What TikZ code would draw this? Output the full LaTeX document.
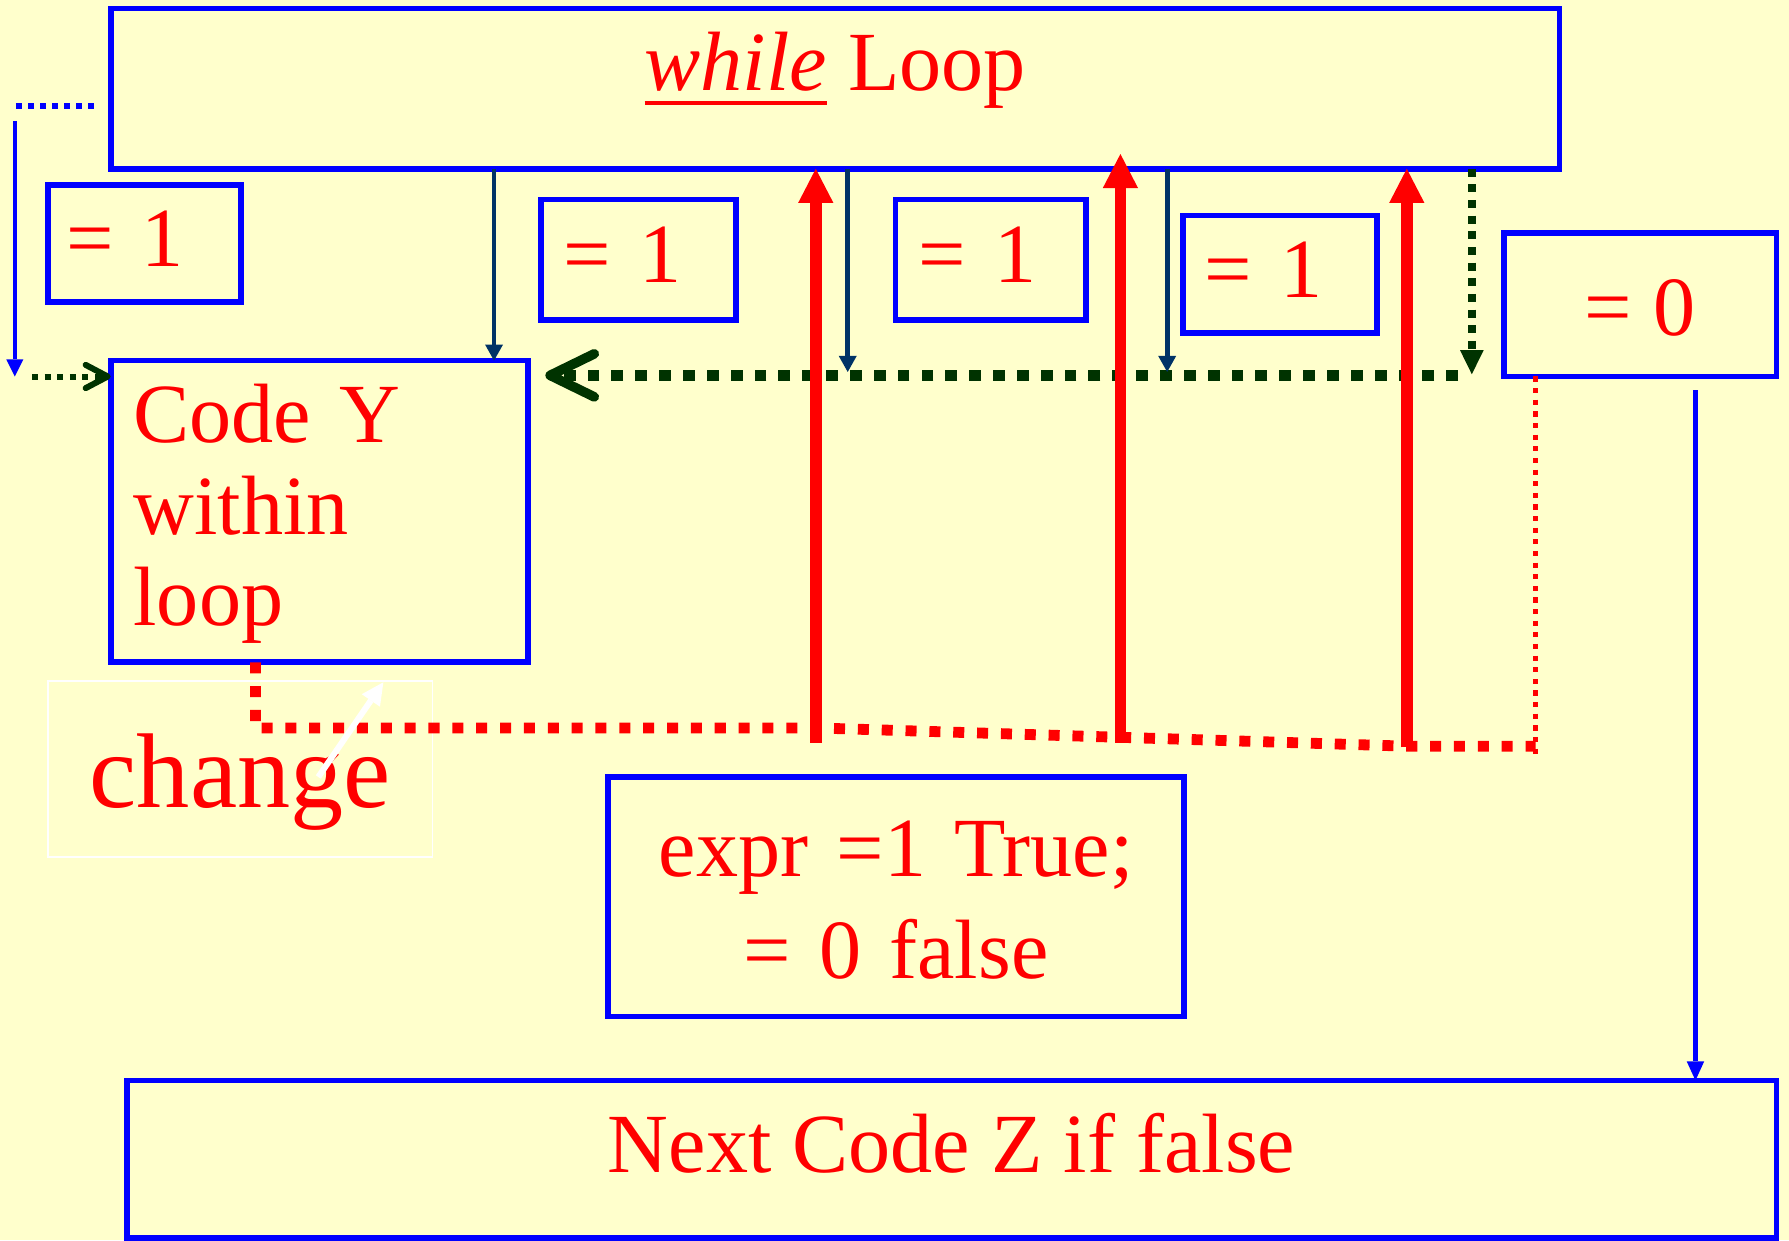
\documentclass[tikz,border=0pt]{standalone}
\usepackage{fontspec}
\setmainfont{Liberation Serif}
\usetikzlibrary{arrows.meta}
\definecolor{bgyellow}{HTML}{FFFFCC}
\definecolor{navyc}{HTML}{003366}
\definecolor{dgreen}{HTML}{003300}
\begin{document}
\begin{tikzpicture}[x=0.02cm,y=-0.02cm,
  boxs/.style={draw=blue, line width=2.8pt, inner sep=0pt, outer sep=0pt, text=red,
    font=\fontsize{42}{46}\selectfont},
  eqbox/.style={boxs, align=left, text height=1cm, text depth=0.19cm},
  navyarr/.style={draw=navyc, line width=2.3pt, -{Triangle[length=8pt,width=9pt,line width=0pt]}},
  bluearr/.style={draw=blue, line width=2.3pt, -{Triangle[length=9.5pt,width=8.7pt,line width=0pt]}},
  redarr/.style={draw=red, line width=5.9pt, -{Triangle[length=17pt,width=17.6pt,line width=0pt]}},
  reddots/.style={draw=red, line width=5.4pt, dash pattern=on 5.5pt off 6.4pt},
  redthin/.style={draw=red, line width=2.6pt, dash pattern=on 2.6pt off 3.2pt},
  greendots/.style={draw=dgreen, line width=5.2pt, dash pattern=on 5.9pt off 6pt},
  greenvert/.style={draw=dgreen, line width=4pt, dash pattern=on 4pt off 3.8pt,
    -{Triangle[length=12pt,width=11.8pt,line width=0pt]}},
  greensmall/.style={draw=dgreen, line width=3pt, dash pattern=on 3pt off 3.3pt},
  bluedots/.style={draw=blue, line width=3.1pt, dash pattern=on 2.8pt off 3.2pt},
  whitearr/.style={draw=white, line width=3pt, -{Triangle[length=11pt,width=11pt,line width=0pt]}}
]
\fill[bgyellow] (0,0) rectangle (1568,1087);
\useasboundingbox (0,0) rectangle (1568,1087);

% boxes
\node[boxs, minimum width=25.4cm, minimum height=2.81cm, text height=1cm, text depth=0.95cm]
  (loop) at (732,77.75) {\vtop{\hbox{\itshape while}\kern5.1pt\hrule height 2pt} Loop};
\node[boxs, align=left, text width=6.52cm, inner xsep=0.4cm, minimum height=5.29cm,
  text height=1cm, text depth=3.41cm, font=\fontsize{42}{45.6}\selectfont]
  (codey) at (280,448.25) {Code Y\\within\\loop};
\node[eqbox, text width=2.74cm, inner xsep=0.32cm, minimum height=2.05cm, text depth=0.17cm]
  (eqA) at (126.5,213.25) {= 1};
\node[eqbox, text width=2.62cm, inner xsep=0.4cm, minimum height=2.11cm]
  (eqB) at (559.5,227.75) {= 1};
\node[eqbox, text width=2.54cm, inner xsep=0.4cm, minimum height=2.11cm]
  (eqC) at (868.5,227.75) {= 1};
\node[eqbox, text width=2.64cm, inner xsep=0.38cm, minimum height=2.06cm, text depth=0.2cm]
  (eqD) at (1122,240.5) {= 1};
\node[boxs, minimum width=4.78cm, minimum height=2.52cm, text height=1.2cm, text depth=0.12cm]
  (eqE) at (1437.5,267) {= 0};
\node[boxs, align=center, text width=9cm, minimum width=10.1cm, minimum height=4.2cm,
  text height=1cm, text depth=1.7cm, font=\fontsize{42}{50.5}\selectfont]
  (expr) at (785.5,786) {expr =1 True;\\= 0 false};
\node[boxs, minimum width=28.92cm, minimum height=2.76cm, text height=1cm, text depth=0.52cm]
  (nextz) at (834,1016) {Next Code Z if false};
\node[draw=white, line width=0.7pt, inner sep=0pt, outer sep=0pt, text=red,
  font=\fontsize{53}{60}\selectfont, minimum width=6.74cm, minimum height=3.08cm,
  text height=1.4cm, text depth=0.04cm]
  (change) at (210.5,674) {change};

% coordinates
\coordinate (l1) at (14,93);
\coordinate (l2) at (82,93);
\coordinate (l3) at (13,106);
\coordinate (l4) at (13,330);
\coordinate (l5) at (28,330);
\coordinate (n1) at (433,0);
\coordinate (n2) at (743,326);
\coordinate (n3) at (1023,326);
\coordinate (g1) at (1290,328);
\coordinate (g2) at (1278,329);
\coordinate (g3) at (478,329);
\coordinate (cy) at (224,638);
\coordinate (c1) at (715,638);
\coordinate (c2) at (1233,654);
\coordinate (c3) at (1346,654);
\coordinate (c4) at (1346,662);
\coordinate (rb1) at (715,651);
\coordinate (rb2) at (982,651);
\coordinate (rt2) at (982,135);
\coordinate (rb3) at (1233,655);
\coordinate (b1) at (1486,342);
\coordinate (w1) at (279,681);
\coordinate (w2) at (336,598);

% left side
\draw[bluedots] (l1) -- (l2);
\draw[draw=blue, line width=2.3pt, -{Triangle[length=8.5pt,width=8.5pt,line width=0pt]}] (l3) -- (l4);
\draw[greensmall, -{Straight Barb[length=11pt,width=11.6pt,line width=3pt,round]}] (l5) -- (codey.west |- l5);

% green loop-back
\draw[greendots, -{Straight Barb[length=22pt,width=21.5pt,line width=4.8pt,round]}] (g2) -- (g3);
\draw[greenvert] (loop.south -| g1) -- (g1);

% navy arrows
\draw[navyarr] (loop.south -| n1) -- (codey.north -| n1);
\draw[navyarr] (loop.south -| n2) -- (n2);
\draw[navyarr] (loop.south -| n3) -- (n3);

% red feedback
\draw[reddots] (codey.south -| cy) -- (cy) -- (c1) -- (c2) -- (c3);
\draw[redthin] (eqE.south -| c3) -- (c4);
\draw[redarr] (rb1) -- (loop.south -| rb1);
\draw[redarr] (rb2) -- (rt2);
\draw[redarr] (rb3) -- (loop.south -| rb3);

% exit
\draw[bluearr] (b1) -- (nextz.north -| b1);

% change arrow
\draw[whitearr] (w1) -- (w2);
\end{tikzpicture}
\end{document}
